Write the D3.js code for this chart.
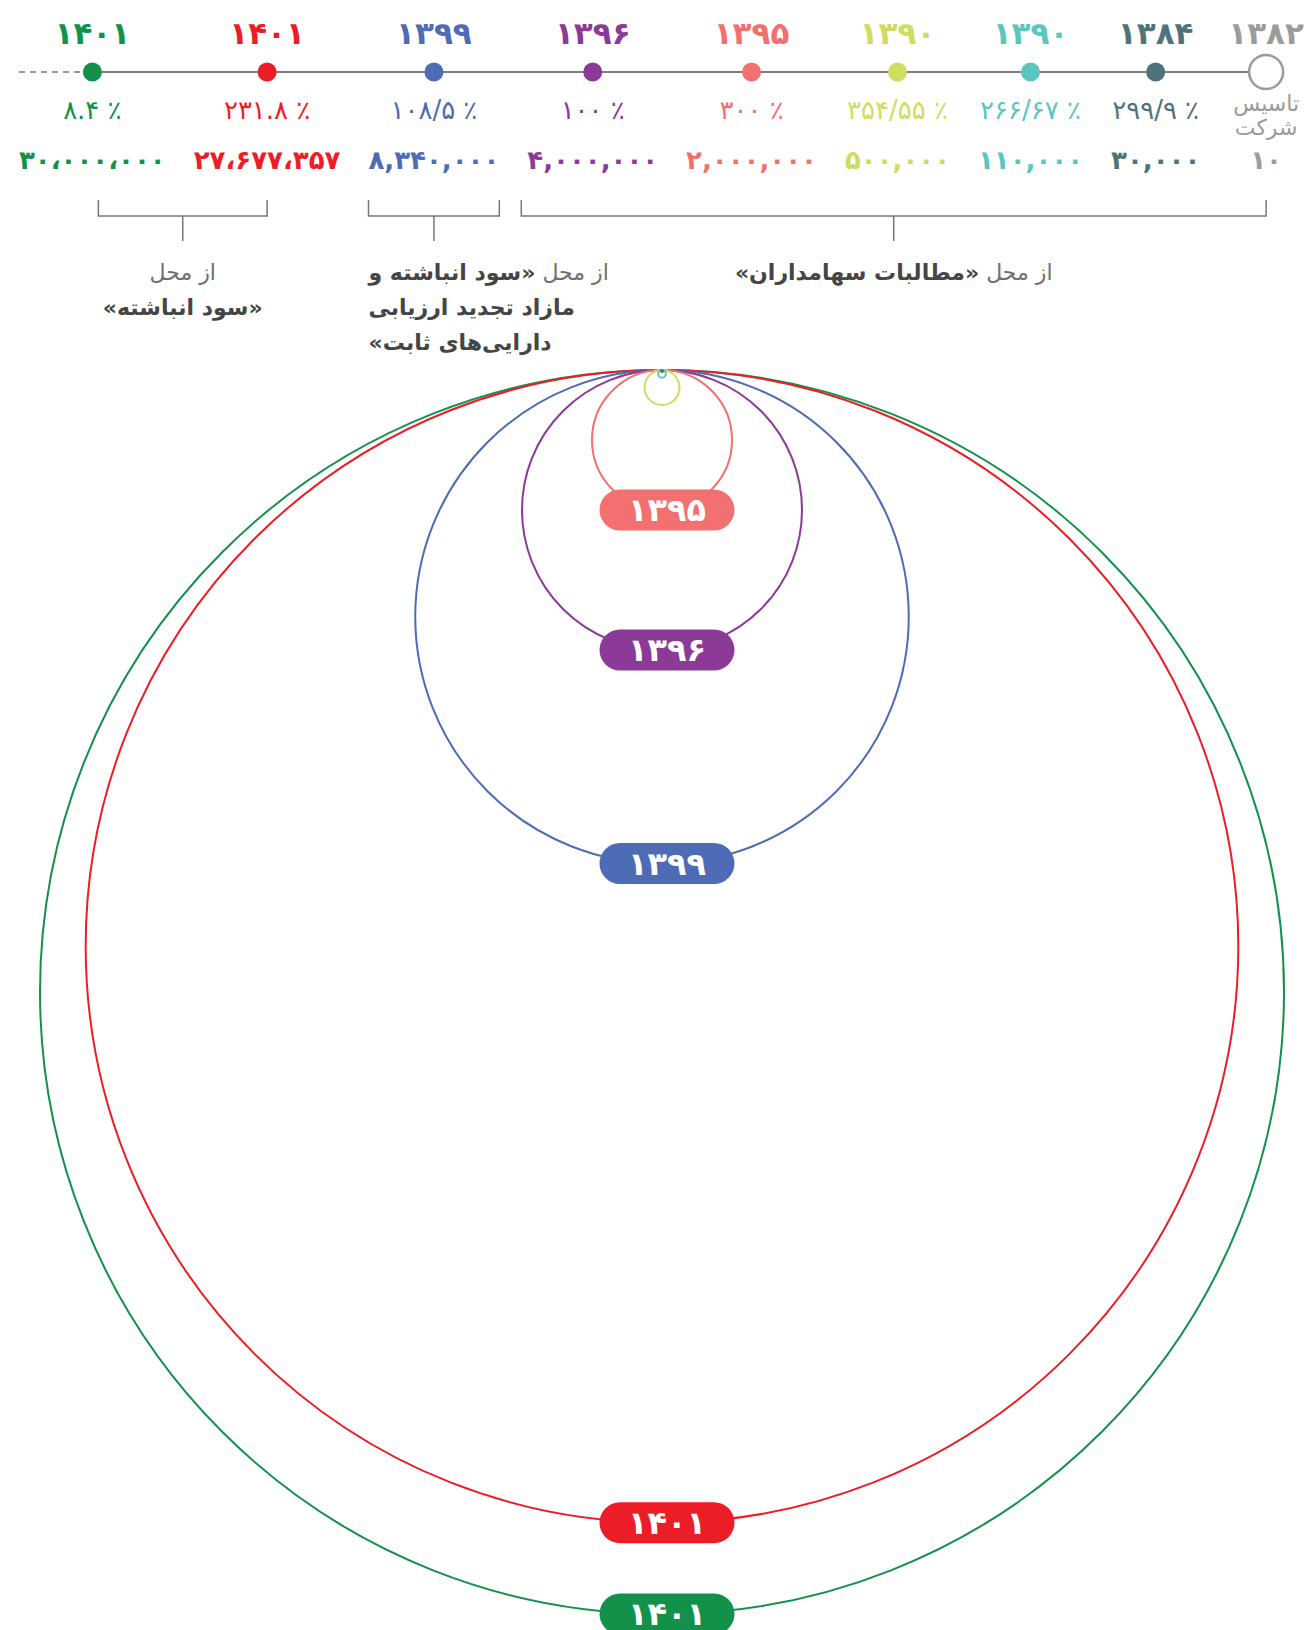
<!DOCTYPE html>
<html lang="fa">
<head>
<meta charset="utf-8">
<script src="https://cdn.jsdelivr.net/npm/d3@7"></script>
<style>
  html, body { margin: 0; padding: 0; background: #fff; }
  svg { display: block; font-family: "DejaVu Sans", sans-serif; }
</style>
</head>
<body>
<div id="chart"></div>
<script>
// Capital growth of the company since founding: a timeline row of steps
// (year / growth % / capital) and nested circles, all tangent at the top,
// whose size follows the capital after each step.

const years = ["۱۴۰۱", "۱۴۰۱", "۱۳۹۹", "۱۳۹۶", "۱۳۹۵", "۱۳۹۰", "۱۳۹۰", "۱۳۸۴", "۱۳۸۲"];
const capital = [30000000, 27677357, 8340000, 4000000, 2000000, 500000, 110000, 30000, 10];
const capitalText = ["۳۰،۰۰۰،۰۰۰", "۲۷،۶۷۷،۳۵۷", "۸,۳۴۰,۰۰۰", "۴,۰۰۰,۰۰۰", "۲,۰۰۰,۰۰۰",
  "۵۰۰,۰۰۰", "۱۱۰,۰۰۰", "۳۰,۰۰۰", "۱۰"];
const growthText = ["۸.۴ ٪", "۲۳۱.۸ ٪", "۱۰۸/۵ ٪", "۱۰۰ ٪", "۳۰۰ ٪", "۳۵۴/۵۵ ٪", "۲۶۶/۶۷ ٪", "۲۹۹/۹ ٪", null];
const foundingText = ["تاسیس", "شرکت"];
const pillSteps = [0, 1, 2, 3, 4];   // steps whose circle carries a year pill

// source of each capital increase: [first step, last step, text lines]
const sources = [
  { from: 0, to: 1, lines: [[["از محل", false]], [["«سود انباشته»", true]]] },
  { from: 2, to: 2, lines: [[["از محل ", false], ["«سود انباشته و", true]], [["مازاد تجدید ارزیابی", true]], [["دارایی‌های ثابت»", true]]] },
  { from: 3, to: 8, lines: [[["از محل ", false], ["«مطالبات سهامداران»", true]]] },
];

const palette = ["#12914a", "#ec1d27", "#4e6cb6", "#8c3a98", "#f2706f", "#cfdc5f", "#5bc6c0", "#4f737b", "#9b9b9b"];

const width = 1310, height = 1630;
const lineY = 72, yearY = 33, growthY = 110, capY = 160;
const cx = 662, circleTop = 370;

const color = d3.scaleOrdinal(d3.range(years.length), palette);
// hand-drawn size key of the original: linear for the small steps, compressed above
const r = d3.scaleLinear().domain([0, 4e6, 8e6, 27e6, 30e6]).range([0, 140, 241, 563, 622]);

const svg = d3.select("#chart").append("svg")
  .attr("width", width).attr("height", height).attr("viewBox", `0 0 ${width} ${height}`);

// ---- timeline columns (laid out by their text widths) ----
const cols = svg.append("g").selectAll("g").data(years).join("g");

cols.append("text")
  .attr("y", yearY).attr("text-anchor", "middle").attr("dominant-baseline", "central")
  .attr("font-size", 31).attr("font-weight", 700)
  .attr("fill", (d, i) => color(i)).text((d) => d);

cols.each(function (d, i) {
  const g = d3.select(this);
  if (growthText[i] != null) {
    g.append("text").attr("y", growthY).attr("text-anchor", "middle").attr("dominant-baseline", "central")
      .attr("font-size", 26).attr("fill", color(i)).text(growthText[i]);
  } else {
    foundingText.forEach((t, k) => {
      g.append("text").attr("y", 103 + k * 24).attr("text-anchor", "middle")
        .attr("dominant-baseline", "central").attr("font-size", 22).attr("fill", color(i)).text(t);
    });
  }
});

cols.append("text")
  .attr("y", capY).attr("text-anchor", "middle").attr("dominant-baseline", "central")
  .attr("font-size", 26).attr("font-weight", 700)
  .attr("fill", (d, i) => color(i)).text((d, i) => capitalText[i]);

const widths = cols.nodes().map((n) => n.getBBox().width);
const x0 = 19, x1 = 1304;
const gap = (x1 - x0 - d3.sum(widths)) / (widths.length - 1);
const centers = [];
let acc = x0;
widths.forEach((w) => { centers.push(acc + w / 2); acc += w + gap; });
cols.attr("transform", (d, i) => `translate(${centers[i]},0)`);

const line = svg.insert("g", ":first-child");
line.append("line").attr("x1", x0).attr("x2", centers[0] - 10).attr("y1", lineY).attr("y2", lineY)
  .attr("stroke", "#777").attr("stroke-width", 1.5).attr("stroke-dasharray", "6 5");
line.append("line").attr("x1", centers[0]).attr("x2", centers[centers.length - 1]).attr("y1", lineY).attr("y2", lineY)
  .attr("stroke", "#555").attr("stroke-width", 1.5);

const last = years.length - 1;
svg.append("g").selectAll("circle").data(years).join("circle")
  .attr("cx", (d, i) => centers[i]).attr("cy", lineY)
  .attr("r", (d, i) => (i === last ? 17 : 9.5))
  .attr("fill", (d, i) => (i === last ? "#fff" : color(i)))
  .attr("stroke", (d, i) => (i === last ? color(i) : "none"))
  .attr("stroke-width", 2.5);

// ---- brackets and source notes ----
const colLeft = (i) => centers[i] - widths[i] / 2, colRight = (i) => centers[i] + widths[i] / 2;
const bTop = 200, bY = 216, stemY = 241;
sources.forEach((s, k) => {
  const a = s.from === s.to ? colLeft(s.from) : (k === 0 ? centers[s.from] + 6 : colLeft(s.from) - 6);
  const b = s.from === s.to ? colRight(s.to) : centers[s.to];
  const mid = (a + b) / 2;
  svg.append("path")
    .attr("d", `M${a},${bTop}V${bY}H${b}V${bTop}M${mid},${bY}V${stemY}`)
    .attr("fill", "none").attr("stroke", "#777").attr("stroke-width", 1.5);
  const leftAligned = s.lines.length > 2;
  s.lines.forEach((ln, j) => {
    const t = svg.append("text")
      .attr("x", leftAligned ? a : mid).attr("y", 272 + j * 35)
      .attr("direction", "rtl")
      .attr("text-anchor", leftAligned ? "end" : "middle")
      .attr("dominant-baseline", "central").attr("font-size", 22);
    ln.forEach(([txt, bold]) => {
      t.append("tspan").attr("font-weight", bold ? 700 : 400)
        .attr("fill", bold ? "#454545" : "#707070").text(txt);
    });
  });
});

// ---- nested circles, tangent at the top ----
const order = d3.range(years.length).sort((a, b) => capital[b] - capital[a]);
svg.append("g").selectAll("circle").data(order).join("circle")
  .attr("cx", cx).attr("cy", (i) => circleTop + r(capital[i])).attr("r", (i) => r(capital[i]))
  .attr("fill", "none").attr("stroke", (i) => color(i)).attr("stroke-width", 2);

const pills = svg.append("g").selectAll("g").data(pillSteps).join("g")
  .attr("transform", (i) => `translate(${cx + 5},${circleTop + 2 * r(capital[i])})`);
pills.append("rect").attr("x", -67.5).attr("y", -20.5).attr("width", 135).attr("height", 41).attr("rx", 20.5)
  .attr("fill", (i) => color(i));
pills.append("text").attr("text-anchor", "middle").attr("dominant-baseline", "central")
  .attr("font-size", 32).attr("font-weight", 700).attr("fill", "#fff").text((i) => years[i]);
</script>
</body>
</html>
